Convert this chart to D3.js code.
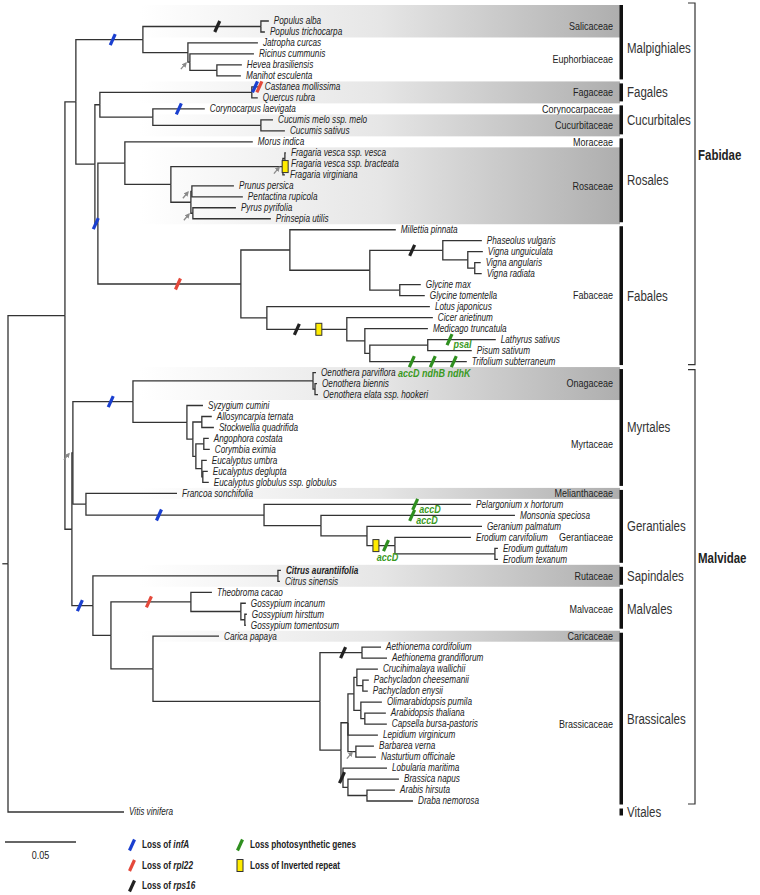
<!DOCTYPE html>
<html lang="en">
<head>
<meta charset="UTF-8" />
<title>Rosid plastome phylogeny</title>
<script src="https://d3js.org/d3.v7.min.js"></script>
<style>
  body { margin: 0; background: #fff; }
  svg text { font-family: "Liberation Sans", Arial, sans-serif; fill: #222; }
  .branch { fill: none; stroke: #333; stroke-width: 1.3; }
  .leaf { font-size: 10px; font-style: italic; }
  .family { font-size: 11px; }
  .order { font-size: 14px; fill: #333; }
  .subclass { font-size: 14px; font-weight: bold; }
  .legend { font-size: 10px; font-weight: bold; }
  .gene { font-size: 11px; font-weight: bold; font-style: italic; fill: #3a9a1e; }
</style>
</head>
<body>
<svg id="tree" width="760" height="895"></svg>
<script>
// tree with branch lengths (substitutions per site); internal labels name the branches used below
const newick =
  "(((" +
    "((Populus_alba:0.0056,Populus_trichocarpa:0.0028)Salicaceae:0.0831," +
     "(Jatropha_curcas:0.0493,(Ricinus_cummunis:0.0451,(Hevea_brasiliensis:0.0176,Manihot_esculenta:0.0169):0.0190)E2:0.0014):0.0317)Malpighiales:0.0472," +
    "(((Castanea_mollissima:0.0056,Quercus_rubra:0.0042):0.1070," +
      "(Corynocarpus_laevigata:0.0366,(Cucumis_melo_ssp._melo:0.0085,Cucumis_sativus:0.0169):0.0761):0.0373):0.0035," +
     "((Morus_indica:0.0901," +
       "(((Fragaria_vesca_ssp._vesca:0.0007,Fragaria_vesca_ssp._bracteata:0.0007):0.0014,Fragaria_virginiana:0.0014)Fragaria:0.0789," +
        "((Prunus_persica:0.0296,Pentactina_rupicola:0.0359)PP:0.0007,(Pyrus_pyrifolia:0.0303,Prinsepia_utilis:0.0549)PY:0.0014):0.0141):0.0324):0.0190," +
      "((Millettia_pinnata:0.0746," +
         "((Phaseolus_vulgaris:0.0275,(Vigna_unguiculata:0.0106,(Vigna_angularis:0.0042,Vigna_radiata:0.0049):0.0049):0.0176)Phaseoleae:0.0514," +
          "(Glycine_max:0.0148,Glycine_tomentella:0.0176):0.0211):0.0563):0.0345," +
       "(Lotus_japonicus:0.1148,(Cicer_arietinum:0.0606,(Medicago_truncatula:0.0444," +
         "((Lathyrus_sativus:0.0479,Pisum_sativum:0.0310):0.0408,Trifolium_subterraneum:0.0683):0.0035):0.0127)IRLC:0.0563):0.0183)Fabales:0.1007" +
     ")RF:0.0021):0.0134" +
    ")Fabidae:0.0077," +
    "((" +
      "((Oenothera_parviflora:0.0021,(Oenothera_biennis:0.0014,Oenothera_elata_ssp._hookeri:0.0021):0.0014):0.1268," +
       "(Syzygium_cumini:0.0113,((Allosyncarpia_ternata:0.0070,Stockwellia_quadrifida:0.0085):0.0063," +
        "((Angophora_costata:0.0035,Corymbia_eximia:0.0042):0.0056,(Eucalyptus_umbra:0.0035,(Eucalyptus_deglupta:0.0035,Eucalyptus_globulus_ssp._globulus:0.0042):0.0007):0.0042):0.0021):0.0042):0.0380)Myrtales:0.0423," +
      "(Francoa_sonchifolia:0.0641,(Pelargonium_x_hortorum:0.1458,(Monsonia_speciosa:0.1366,(Geranium_palmatum:0.0810," +
        "(Erodium_carvifolium:0.0535,(Erodium_guttatum:0.0021,Erodium_texanum:0.0021):0.0704)Erodium:0.0197):0.0324):0.0401)Geraniaceae:0.1254):0.0092" +
    ")MG:0.0007," +
    "((Citrus_aurantiifolia:0.0021,Citrus_sinensis:0.0014):0.1303," +
     "((Theobroma_cacao:0.0148,(Gossypium_incanum:0.0035,(Gossypium_hirsttum:0.0014,Gossypium_tomentosum:0.0007):0.0028):0.0352)Malvales:0.0563," +
      "(Carica_papaya:0.0465,((Aethionema_cordifolium:0.0134,Aethionema_grandiflorum:0.0176)Aethionema:0.0296," +
        "((((Crucihimalaya_wallichii:0.0148,(Pachycladon_cheesemanii:0.0042,Pachycladon_enysii:0.0035):0.0042):0.0021," +
           "(Olimarabidopsis_pumila:0.0148,(Arabidopsis_thaliana:0.0148,Capsella_bursa-pastoris:0.0155):0.0028):0.0049):0.0042," +
          "Lepidium_virginicum:0.0211,(Barbarea_verna:0.0127,Nasturtium_officinale:0.0141)BN:0.0056):0.0049," +
         "(Lobularia_maritima:0.0310,(Brassica_napus:0.0359,(Arabis_hirsuta:0.0197,Draba_nemorosa:0.0324):0.0134):0.0035)L1:0.0014):0.0148):0.1176):0.0296):0.0127)SMB:0.0148" +
    ")Malvidae:0.0049" +
  "):0.0401,Vitis_vinifera:0.0817);";

const boldLeaves = ["Citrus aurantiifolia"];

const families = [
  { name: "Salicaceae", from: "Populus alba", to: "Populus trichocarpa", shaded: true },
  { name: "Euphorbiaceae", from: "Jatropha curcas", to: "Manihot esculenta", shaded: false },
  { name: "Fagaceae", from: "Castanea mollissima", to: "Quercus rubra", shaded: true },
  { name: "Corynocarpaceae", from: "Corynocarpus laevigata", to: "Corynocarpus laevigata", shaded: false },
  { name: "Cucurbitaceae", from: "Cucumis melo ssp. melo", to: "Cucumis sativus", shaded: true },
  { name: "Moraceae", from: "Morus indica", to: "Morus indica", shaded: false },
  { name: "Rosaceae", from: "Fragaria vesca ssp. vesca", to: "Prinsepia utilis", shaded: true },
  { name: "Fabaceae", from: "Millettia pinnata", to: "Trifolium subterraneum", shaded: false },
  { name: "Onagaceae", from: "Oenothera parviflora", to: "Oenothera elata ssp. hookeri", shaded: true },
  { name: "Myrtaceae", from: "Syzygium cumini", to: "Eucalyptus globulus ssp. globulus", shaded: false },
  { name: "Melianthaceae", from: "Francoa sonchifolia", to: "Francoa sonchifolia", shaded: true },
  { name: "Gerantiaceae", from: "Pelargonium x hortorum", to: "Erodium texanum", shaded: false, labelAt: "Erodium carvifolium" },
  { name: "Rutaceae", from: "Citrus aurantiifolia", to: "Citrus sinensis", shaded: true },
  { name: "Malvaceae", from: "Theobroma cacao", to: "Gossypium tomentosum", shaded: false },
  { name: "Caricaceae", from: "Carica papaya", to: "Carica papaya", shaded: true },
  { name: "Brassicaceae", from: "Aethionema cordifolium", to: "Draba nemorosa", shaded: false }
];

const orders = [
  ["Malpighiales", "Populus alba", "Manihot esculenta"],
  ["Fagales", "Castanea mollissima", "Quercus rubra"],
  ["Cucurbitales", "Corynocarpus laevigata", "Cucumis sativus"],
  ["Rosales", "Morus indica", "Prinsepia utilis"],
  ["Fabales", "Millettia pinnata", "Trifolium subterraneum"],
  ["Myrtales", "Oenothera parviflora", "Eucalyptus globulus ssp. globulus"],
  ["Gerantiales", "Francoa sonchifolia", "Erodium texanum"],
  ["Sapindales", "Citrus aurantiifolia", "Citrus sinensis"],
  ["Malvales", "Theobroma cacao", "Gossypium tomentosum"],
  ["Brassicales", "Carica papaya", "Draba nemorosa"],
  ["Vitales", "Vitis vinifera", "Vitis vinifera"]
];

const subclasses = [
  ["Fabidae", "Populus alba", "Trifolium subterraneum"],
  ["Malvidae", "Oenothera parviflora", "Draba nemorosa"]
];

// gene-loss events: branch (named node), relative position along it, kind
const markers = [
  { branch: "Malpighiales", t: 0.55, type: "infA" },
  { branch: "Salicaceae", t: 0.63, type: "rps16" },
  { branch: "Castanea mollissima", t: 0.4, type: "infA" },
  { branch: "Castanea mollissima", t: 0.95, type: "rpl22" },
  { branch: "Corynocarpus laevigata", t: 0.5, type: "infA" },
  { branch: "Fragaria", t: 1.02, type: "ir" },
  { branch: "RF", t: 0.3, type: "infA" },
  { branch: "Fabales", t: 0.56, type: "rpl22" },
  { branch: "Phaseoleae", t: 0.58, type: "rps16" },
  { branch: "IRLC", t: 0.375, type: "rps16" },
  { branch: "IRLC", t: 0.65, type: "ir" },
  { branch: "Lathyrus sativus", t: 0.32, type: "photo", gene: "psaI", pos: "right" },
  { branch: "Trifolium subterraneum", t: 0.433, type: "photo", gene: "accD", pos: "below" },
  { branch: "Trifolium subterraneum", t: 0.649, type: "photo", gene: "ndhB", pos: "below" },
  { branch: "Trifolium subterraneum", t: 0.866, type: "photo", gene: "ndhK", pos: "below" },
  { branch: "Myrtales", t: 0.63, type: "infA" },
  { branch: "Geraniaceae", t: 0.41, type: "infA" },
  { branch: "Pelargonium x hortorum", t: 0.73, type: "photo", gene: "accD", pos: "right" },
  { branch: "Monsonia speciosa", t: 0.47, type: "photo", gene: "accD", pos: "right" },
  { branch: "Erodium", t: 0.32, type: "ir" },
  { branch: "Erodium", t: 0.68, type: "photo", gene: "accD", pos: "below" },
  { branch: "SMB", t: 0.38, type: "infA" },
  { branch: "Malvales", t: 0.475, type: "rpl22" },
  { branch: "Aethionema", t: 0.55, type: "rps16" },
  { branch: "L1", t: 0.5, type: "rps16" }
];

// nodes flagged with a grey arrow
const arrowNodes = ["E2", "Fragaria", "PP", "PY", "MG", "BN"];

const legendItems = [
  { type: "infA", text: "Loss of ", gene: "infA" },
  { type: "rpl22", text: "Loss of ", gene: "rpl22" },
  { type: "rps16", text: "Loss of ", gene: "rps16" },
  { type: "photo", text: "Loss photosynthetic genes", gene: "" },
  { type: "ir", text: "Loss of Inverted repeat", gene: "" }
];

const scaleBarValue = 0.05;

const markColors = { infA: "#1a3fcf", rpl22: "#e4493b", rps16: "#222", photo: "#2f8f1f" };

// the figure uses a narrow face; squeeze the regular one horizontally
const narrow = 0.82;
const at = (px, py) => `translate(${px},${py}) scale(${narrow},1)`;

function parseNewick(s) {
  const tokens = s.split(/\s*(;|\(|\)|,|:)\s*/);
  const stack = [];
  let tree = {}, node = tree;
  for (let i = 0; i < tokens.length; i++) {
    const tok = tokens[i];
    if (tok === "(") { const c = {}; node.children = [c]; stack.push(node); node = c; }
    else if (tok === ",") { const c = {}; stack[stack.length - 1].children.push(c); node = c; }
    else if (tok === ")") { node = stack.pop(); }
    else if (tok === ":" || tok === ";") { }
    else {
      const prev = tokens[i - 1];
      if (prev === ")" || prev === "(" || prev === ",") { if (tok) node.name = tok.replace(/_/g, " "); }
      else if (prev === ":") node.length = +tok;
    }
  }
  return tree;
}

const svg = d3.select("#tree");

const root = d3.hierarchy(parseNewick(newick));
root.eachBefore(d => { d.dist = d.parent ? d.parent.dist + (d.data.length || 0) : 0; });
const leaves = root.leaves();

// 0.05 substitutions = 71 px
const x = d3.scaleLinear().domain([0, scaleBarValue]).range([8, 79]);
const y = d3.scaleLinear().domain([0, leaves.length - 1]).range([21, 812]);
const step = y(1) - y(0);

leaves.forEach((d, i) => { d.y = y(i); d.idx = i; });
root.eachAfter(d => {
  if (d.children) d.y = (d.children[0].y + d.children[d.children.length - 1].y) / 2;
  d.x = x(d.dist);
});

const byName = new Map();
root.each(d => { if (d.data.name) byName.set(d.data.name, d); });
const leafIdx = name => byName.get(name).idx;

// gradient for family bands
const defs = svg.append("defs");
const grad = defs.append("linearGradient").attr("id", "bandFill")
  .attr("x1", 0).attr("x2", 1).attr("y1", 0).attr("y2", 0);
grad.append("stop").attr("offset", "0%").attr("stop-color", "#ffffff");
grad.append("stop").attr("offset", "50%").attr("stop-color", "#e6e6e6");
grad.append("stop").attr("offset", "100%").attr("stop-color", "#aeaeae");

defs.append("marker").attr("id", "arrowHead")
  .attr("viewBox", "0 0 10 10").attr("refX", 7).attr("refY", 5)
  .attr("markerWidth", 4).attr("markerHeight", 4).attr("orient", "auto")
  .append("path").attr("d", "M0,0L10,5L0,10z").attr("fill", "#8a8a8a");

const topEdge = 5;
const bandX0 = 140, bandX1 = 620;

// family bands and labels
const famG = svg.append("g");
families.forEach(f => {
  const i0 = leafIdx(f.from), i1 = leafIdx(f.to);
  const top = i0 === 0 ? topEdge : y(i0) - step / 2;
  const bot = y(i1) + step / 2;
  if (f.shaded) {
    famG.append("rect").attr("x", bandX0).attr("y", top)
      .attr("width", bandX1 - bandX0).attr("height", bot - top)
      .attr("fill", "url(#bandFill)");
  }
  const ly = f.labelAt ? y(leafIdx(f.labelAt)) : (y(i0) + y(i1)) / 2;
  famG.append("text").attr("class", "family")
    .attr("transform", at(613, ly)).attr("text-anchor", "end")
    .attr("dominant-baseline", "central").text(f.name);
});

// branches
const treeG = svg.append("g");
treeG.selectAll("path.branch")
  .data(root.descendants().filter(d => d.parent))
  .join("path")
  .attr("class", "branch")
  .attr("d", d => `M${d.parent.x},${d.parent.y}V${d.y}H${d.x}`);
treeG.append("path").attr("class", "branch")
  .attr("d", `M${x(-0.004)},${root.y}H${root.x}`);

// leaf labels
treeG.selectAll("text.leaf")
  .data(leaves)
  .join("text")
  .attr("class", "leaf")
  .attr("transform", d => at(d.x + 5, d.y))
  .attr("dominant-baseline", "central")
  .style("font-weight", d => boldLeaves.includes(d.data.name) ? "bold" : null)
  .text(d => d.data.name);

// grey support arrows
arrowNodes.forEach(n => {
  const d = byName.get(n);
  const tx = d.x - 4, ty = d.y + 1;
  treeG.append("line")
    .attr("x1", tx - 5).attr("y1", ty + 6).attr("x2", tx).attr("y2", ty)
    .attr("stroke", "#8a8a8a").attr("stroke-width", 1.3)
    .attr("marker-end", "url(#arrowHead)");
});

function drawMark(g, type, cx, cy) {
  if (type === "ir") {
    g.append("rect").attr("x", cx - 3).attr("y", cy - 6).attr("width", 6).attr("height", 12)
      .attr("fill", "#ffec00").attr("stroke", "#333").attr("stroke-width", 1);
  } else {
    g.append("line")
      .attr("x1", cx - 2.5).attr("y1", cy + 5.5).attr("x2", cx + 2.5).attr("y2", cy - 5.5)
      .attr("stroke", markColors[type]).attr("stroke-width", 3.2);
  }
}

const markG = svg.append("g");
markers.forEach(m => {
  const d = byName.get(m.branch);
  m.cx = d.parent.x + m.t * (d.x - d.parent.x);
  m.cy = d.y;
  drawMark(markG, m.type, m.cx, m.cy);
  if (m.gene && m.pos === "right") {
    markG.append("text").attr("class", "gene")
      .attr("transform", at(m.cx + 4, m.cy + 5))
      .attr("dominant-baseline", "central")
      .text(m.gene);
  }
});
// gene names set under a branch share one line, centred under their marks
d3.group(markers.filter(m => m.gene && m.pos === "below"), m => m.branch).forEach(ms => {
  markG.append("text").attr("class", "gene")
    .attr("transform", at(d3.mean(ms, m => m.cx) + 1.5, ms[0].cy + 12))
    .attr("text-anchor", "middle")
    .attr("dominant-baseline", "central")
    .text(ms.map(m => m.gene).join(" "));
});

// order bars and labels
const ordG = svg.append("g");
orders.forEach(([name, a, b]) => {
  const i0 = leafIdx(a), i1 = leafIdx(b);
  const top = i0 === 0 ? topEdge : y(i0) - step / 2 + 2;
  const bot = y(i1) + step / 2 - 2;
  ordG.append("rect").attr("x", 619.5).attr("y", top).attr("width", 3.5).attr("height", bot - top).attr("fill", "#111");
  ordG.append("text").attr("class", "order").attr("transform", at(627, (y(i0) + y(i1)) / 2))
    .attr("dominant-baseline", "central").text(name);
});

// subclass brackets; their names sit a little above the bracket middle
subclasses.forEach(([name, a, b]) => {
  const i0 = leafIdx(a), i1 = leafIdx(b);
  const top = i0 === 0 ? 3 : y(i0) - 3;
  const bot = y(i1) + 3;
  ordG.append("path").attr("fill", "none").attr("stroke", "#333").attr("stroke-width", 1.2)
    .attr("d", `M688,${top}H695V${bot}H688`);
  ordG.append("text").attr("class", "subclass").attr("transform", at(698, (top + bot) / 2 - 29))
    .attr("dominant-baseline", "central").text(name);
});

// scale bar
const sb = svg.append("g").attr("transform", "translate(5,842)");
sb.append("line").attr("x1", 0).attr("x2", x(scaleBarValue) - x(0))
  .attr("stroke", "#333").attr("stroke-width", 1.3);
sb.append("text").attr("transform", at((x(scaleBarValue) - x(0)) / 2, 13))
  .attr("text-anchor", "middle").attr("dominant-baseline", "central")
  .style("font-size", "11px").text(scaleBarValue);

// legend
const legG = svg.append("g");
legendItems.forEach((it, i) => {
  const col = i < 3 ? 0 : 1;
  const row = i < 3 ? i : i - 3;
  const mx = col === 0 ? 132 : 240;
  const my = 845 + row * 20.5;
  drawMark(legG, it.type, mx, my);
  const t = legG.append("text").attr("class", "legend").attr("transform", at(mx + 10, my))
    .attr("dominant-baseline", "central");
  t.append("tspan").text(it.text);
  if (it.gene) t.append("tspan").style("font-style", "italic").text(it.gene);
});
</script>
</body>
</html>
